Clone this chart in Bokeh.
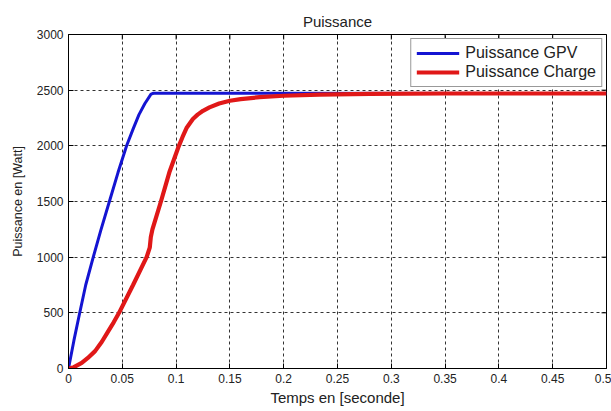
import math
from bokeh.plotting import figure
from bokeh.models import Range1d, FixedTicker, Legend, LegendItem
from bokeh.embed import file_html
from bokeh.resources import INLINE

# ---- data ----
t_gpv = [0, 0.005, 0.01, 0.016, 0.023, 0.03, 0.038, 0.046, 0.054, 0.06, 0.0655, 0.071, 0.0767, 0.079, 0.5]
p_gpv = [0, 250, 480, 750, 1000, 1240, 1500, 1760, 2000, 2150, 2280, 2380, 2465, 2472, 2470]

t_charge = [0, 0.005, 0.0123, 0.018, 0.0247, 0.031, 0.037, 0.042, 0.047, 0.06, 0.0726, 0.0755, 0.0765,
            0.078, 0.0859, 0.094, 0.1026, 0.106, 0.11, 0.1156, 0.12, 0.125, 0.131,
            0.14, 0.15, 0.16, 0.1775, 0.2, 0.233, 0.28, 0.35, 0.5]
p_charge = [0, 12, 50, 95, 156, 240, 336, 415, 500, 750, 1000, 1085, 1180,
            1250, 1500, 1770, 2000, 2080, 2165, 2241, 2280, 2315, 2345,
            2380, 2405, 2420, 2437, 2450, 2460, 2466, 2470, 2470]

x_ticks = [0, 0.05, 0.1, 0.15, 0.2, 0.25, 0.3, 0.35, 0.4, 0.45, 0.5]
x_tick_labels = ["0", "0.05", "0.1", "0.15", "0.2", "0.25", "0.3", "0.35", "0.4", "0.45", "0.5"]
y_ticks = [0, 500, 1000, 1500, 2000, 2500, 3000]
y_tick_labels = ["0", "500", "1000", "1500", "2000", "2500", "3000"]

FONT = "Liberation Sans"
TXT = "#222222"

p = figure(width=611, height=411, output_backend="svg", toolbar_location=None,
           x_range=Range1d(x_ticks[0], x_ticks[-1]), y_range=Range1d(y_ticks[0], y_ticks[-1]),
           min_border_left=68, min_border_right=5, min_border_top=34, min_border_bottom=43)

p.title.text = "Puissance"
p.title.align = "center"
p.title.text_font = FONT
p.title.text_font_size = "15px"
p.title.text_font_style = "normal"
p.title.text_color = TXT

p.outline_line_color = "black"
p.outline_line_width = 1
p.background_fill_color = "white"
p.border_fill_color = "white"

for ax, ticks, labels in ((p.xaxis[0], x_ticks, x_tick_labels), (p.yaxis[0], y_ticks, y_tick_labels)):
    ax.ticker = FixedTicker(ticks=ticks)
    ax.major_label_overrides = dict(zip(ticks, labels))
    ax.major_tick_in = 5
    ax.major_tick_out = 0
    ax.minor_tick_line_color = None
    ax.axis_line_color = "black"
    ax.major_tick_line_color = "black"
    ax.major_label_text_font = FONT
    ax.major_label_text_font_size = "12px"
    ax.major_label_text_color = TXT
    ax.axis_label_text_font = FONT
    ax.axis_label_text_font_style = "normal"
    ax.axis_label_text_color = TXT

p.xaxis.axis_label = "Temps en [seconde]"
p.xaxis.axis_label_text_font_size = "15px"
p.xaxis.major_label_standoff = 5
p.xaxis.axis_label_standoff = 3
p.yaxis.axis_label = "Puissance en [Watt]"
p.yaxis.axis_label_text_font_size = "12.5px"
p.yaxis.major_label_standoff = 5
p.yaxis.axis_label_standoff = 9

for g, ticks in ((p.xgrid, x_ticks), (p.ygrid, y_ticks)):
    g.ticker = FixedTicker(ticks=ticks)
    g.grid_line_color = "#333333"
    g.grid_line_dash = "3 3"
    g.grid_line_width = 1

# inward ticks on the top and right edges of the box (MATLAB "box on")
p.scatter(x=x_ticks, y=[y_ticks[-1]] * len(x_ticks), marker="dash", angle=math.pi / 2,
          size=10, line_color="black", line_width=1)
p.scatter(x=[x_ticks[-1]] * len(y_ticks), y=y_ticks, marker="dash",
          size=10, line_color="black", line_width=1)

b = p.line(t_gpv, p_gpv, line_color="#1414D2", line_width=3)
r = p.line(t_charge, p_charge, line_color="#E01818", line_width=4.2)

legend = Legend(items=[LegendItem(label="Puissance GPV", renderers=[b]),
                       LegendItem(label="Puissance Charge", renderers=[r])],
                location="top_right", label_text_font=FONT, label_text_font_size="16px",
                label_text_color=TXT, glyph_width=43, glyph_height=18, label_height=18,
                label_standoff=6, padding=5, spacing=1, margin=4,
                border_line_color="#333333", border_line_width=1,
                background_fill_color="white", background_fill_alpha=1)
p.add_layout(legend)

open("out.html", "w").write(file_html(p, INLINE))
